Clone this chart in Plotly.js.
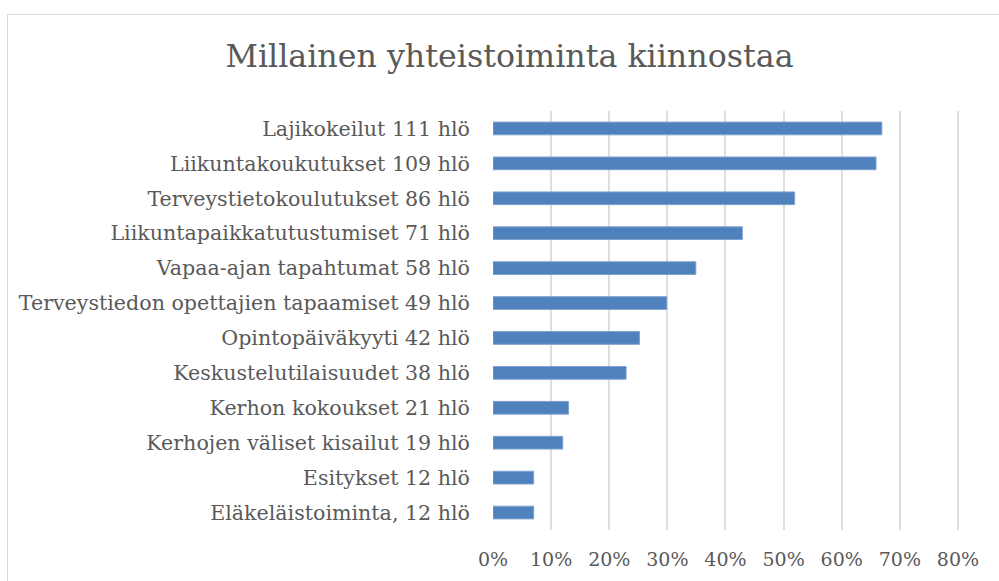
<!DOCTYPE html>
<html>
<head>
<meta charset="utf-8">
<script src="https://cdn.plot.ly/plotly-3.0.1.min.js"></script>
<style>
  html, body { margin: 0; padding: 0; background: #fff; }
  #wrap { position: relative; width: 999px; height: 581px; overflow: hidden; }
  #chart { position: absolute; left: 0; top: 0; width: 999px; height: 581px; }
  #frame { position: absolute; left: 7px; top: 14px; width: 1010px; height: 600px;
           border: 1px solid #D9D9D9; pointer-events: none; }
</style>
</head>
<body>
<div id="wrap">
  <div id="chart"></div>
  <div id="frame"></div>
</div>
<script>
const categories = [
  "Lajikokeilut 111 hlö",
  "Liikuntakoukutukset 109 hlö",
  "Terveystietokoulutukset 86 hlö",
  "Liikuntapaikkatutustumiset 71 hlö",
  "Vapaa-ajan tapahtumat 58 hlö",
  "Terveystiedon opettajien tapaamiset 49 hlö",
  "Opintopäiväkyyti 42 hlö",
  "Keskustelutilaisuudet 38 hlö",
  "Kerhon kokoukset 21 hlö",
  "Kerhojen väliset kisailut 19 hlö",
  "Esitykset 12 hlö",
  "Eläkeläistoiminta, 12 hlö"
];
const shares = [0.669, 0.659, 0.519, 0.429, 0.349, 0.299, 0.252, 0.229, 0.130, 0.120, 0.070, 0.070];
const xTicks = [0, 0.1, 0.2, 0.3, 0.4, 0.5, 0.6, 0.7, 0.8];
const xTickLabels = ["0%", "10%", "20%", "30%", "40%", "50%", "60%", "70%", "80%"];
const chartTitle = "Millainen yhteistoiminta kiinnostaa";

const FONT = "DejaVu Serif, Liberation Serif, serif";

Plotly.newPlot("chart", [{
  type: "bar",
  orientation: "h",
  y: categories,
  x: shares,
  marker: { color: "#4F81BD", line: { color: "#7EA1CF", width: 1 } },
  hoverinfo: "skip"
}], {
  width: 999, height: 581,
  paper_bgcolor: "#fff", plot_bgcolor: "#fff",
  margin: { l: 492.5, r: 39, t: 111, b: 51 },
  bargap: 0.636,
  showlegend: false,
  font: { family: FONT, color: "#595959", size: 20 },
  title: {
    text: chartTitle,
    font: { family: FONT, size: 31.7, color: "#595959" },
    x: 0.51, xanchor: "center", xref: "container",
    y: 0.903, yanchor: "middle", yref: "container"
  },
  xaxis: {
    range: [0, 0.8035],
    tickvals: xTicks, ticktext: xTickLabels,
    showgrid: true, gridcolor: "#DEDEDE", gridwidth: 2,
    zeroline: false, showline: false, ticks: "",
    ticklabelstandoff: 16,
    tickfont: { family: FONT, size: 19, color: "#595959" },
    fixedrange: true
  },
  yaxis: {
    autorange: "reversed",
    showgrid: false, zeroline: false, showline: false, ticks: "",
    ticklabelstandoff: 22,
    tickfont: { family: FONT, size: 20.6, color: "#595959" },
    fixedrange: true
  }
}, { staticPlot: true });
</script>
</body>
</html>
